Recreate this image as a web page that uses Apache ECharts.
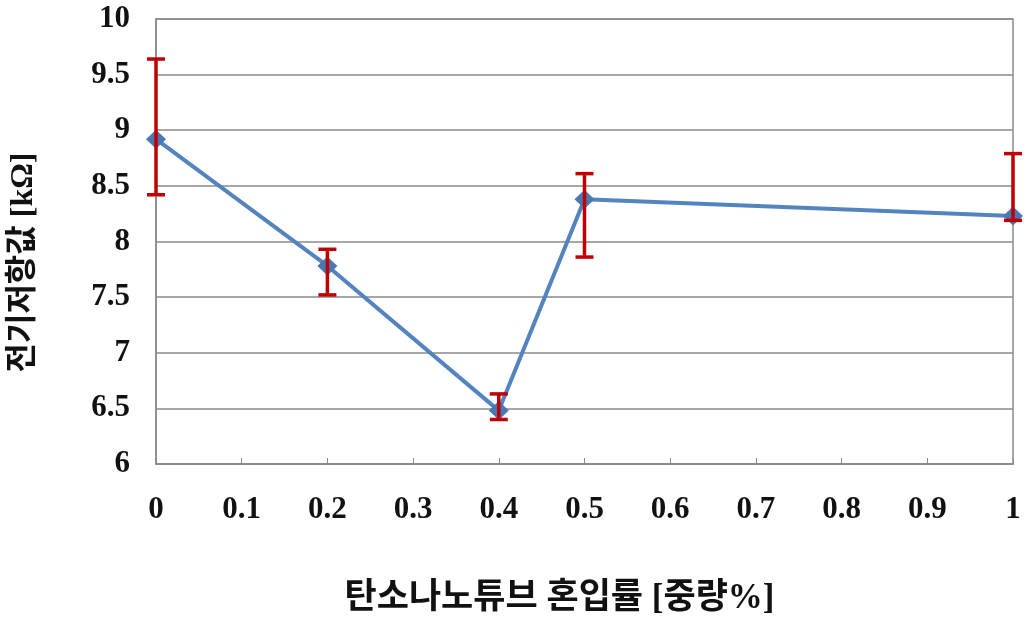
<!DOCTYPE html>
<html>
<head>
<meta charset="utf-8">
<script src="https://cdn.jsdelivr.net/npm/echarts@6/dist/echarts.min.js"></script>
<style>
  html, body { margin: 0; padding: 0; background: #fff; }
  #chart { width: 1025px; height: 621px; }
</style>
</head>
<body>
<div id="chart"></div>
<script>
  // 탄소나노튜브 혼입률 [중량%]
  const cntRatio = [0, 0.2, 0.4, 0.5, 1]
  // 전기저항값 평균 [kΩ]
  const resistance = [8.92, 7.78, 6.48, 8.38, 8.23]
  // 오차 범위 (하한, 상한)
  const errLow = [8.42, 7.52, 6.4, 7.86, 8.19]
  const errHigh = [9.64, 7.93, 6.63, 8.61, 8.79]

  const serif = "'Liberation Serif', 'Noto Sans CJK KR', serif"
  const chart = echarts.init(document.getElementById('chart'))

  const option = {
    backgroundColor: '#fff',
    animation: false,
    grid: {
      left: 156,
      right: 12,
      top: 19,
      bottom: 156,
      show: true,
      borderColor: '#8a8a8a',
      borderWidth: 1.5
    },
    xAxis: {
      type: 'value',
      min: 0,
      max: 1,
      interval: 0.1,
      name: '탄소나노튜브 혼입률 [중량%]',
      nameLocation: 'middle',
      nameGap: 117,
      nameTextStyle: {
        fontFamily: serif,
        fontWeight: 'bold',
        fontSize: 35,
        color: '#111',
        padding: [0, 50, 0, 0]
      },
      axisLine: { lineStyle: { color: '#8a8a8a', width: 1.5 } },
      axisTick: { show: true, inside: true, length: 6, lineStyle: { color: '#8a8a8a' } },
      splitLine: { show: false },
      axisLabel: {
        margin: 30,
        fontFamily: serif,
        fontWeight: 'bold',
        fontSize: 31,
        color: '#111'
      }
    },
    yAxis: {
      type: 'value',
      min: 6,
      max: 10,
      interval: 0.5,
      name: '전기저항값 [kΩ]',
      nameLocation: 'middle',
      nameGap: 116,
      nameTextStyle: {
        fontFamily: serif,
        fontWeight: 'bold',
        fontSize: 32,
        color: '#111',
        padding: [0, 42, 0, 0]
      },
      axisLine: { show: true, lineStyle: { color: '#8a8a8a', width: 1.5 } },
      axisTick: { show: false },
      splitLine: { lineStyle: { color: '#8a8a8a', width: 1.5 } },
      axisLabel: {
        margin: 26,
        fontFamily: serif,
        fontWeight: 'bold',
        fontSize: 31,
        color: '#111'
      }
    },
    series: [
      {
        name: '전기저항값',
        type: 'line',
        data: cntRatio.map((x, i) => [x, resistance[i]]),
        symbol: 'diamond',
        symbolSize: [20, 19],
        lineStyle: { color: '#5384c0', width: 4 },
        itemStyle: { color: '#4a78b2' },
        z: 2
      },
      {
        name: '오차',
        type: 'custom',
        z: 3,
        data: cntRatio.map((x, i) => [x, errLow[i], errHigh[i]]),
        renderItem: (params, api) => {
          const lo = api.coord([api.value(0), api.value(1)])
          const hi = api.coord([api.value(0), api.value(2)])
          const half = 9
          const style = { stroke: '#c00000', lineWidth: 3.5 }
          return {
            type: 'group',
            children: [
              { type: 'line', shape: { x1: hi[0], y1: hi[1], x2: lo[0], y2: lo[1] }, style },
              { type: 'line', shape: { x1: hi[0] - half, y1: hi[1], x2: hi[0] + half, y2: hi[1] }, style },
              { type: 'line', shape: { x1: lo[0] - half, y1: lo[1], x2: lo[0] + half, y2: lo[1] }, style }
            ]
          }
        }
      }
    ]
  }

  chart.setOption(option)
</script>
</body>
</html>
